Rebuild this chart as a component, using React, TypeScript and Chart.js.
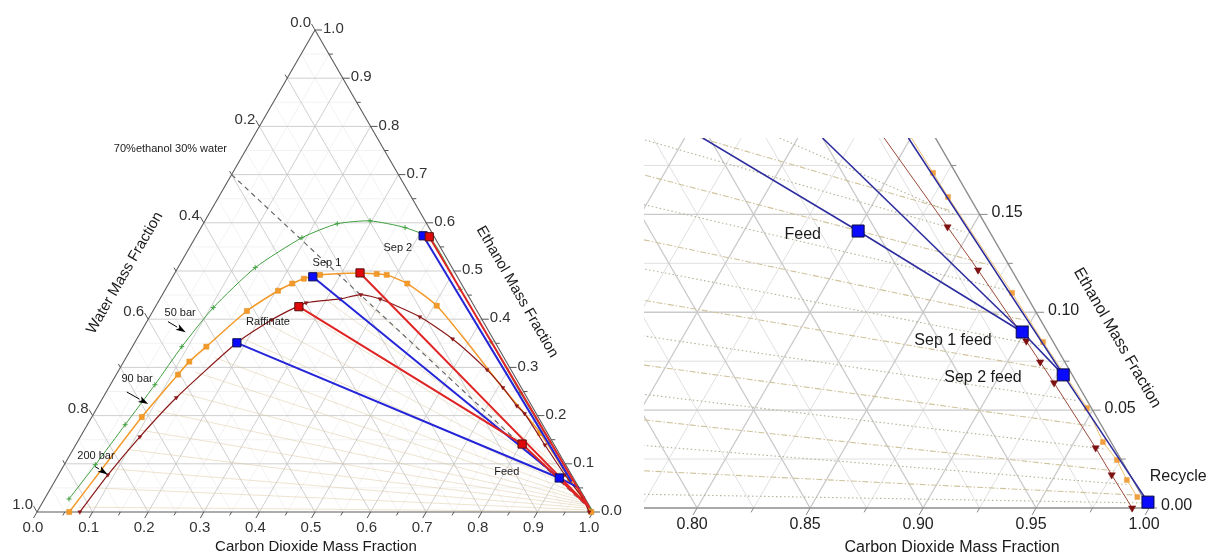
import React, { useEffect, useRef } from "react";
import { Chart, registerables } from "chart.js";
Chart.register(...registerables);

const SQ = Math.sqrt(3) / 2;
const FONT = '"Liberation Sans", Arial, Helvetica, sans-serif';

// ======================= LEFT DIAGRAM (mass fractions: CO2, ethanol) =======================
const leftMajorTicks = [0, 0.1, 0.2, 0.3, 0.4, 0.5, 0.6, 0.7, 0.8, 0.9, 1.0];
const leftMajorLabels = ["0.0", "0.1", "0.2", "0.3", "0.4", "0.5", "0.6", "0.7", "0.8", "0.9", "1.0"];
const leftMinorTicks = [0.05, 0.15, 0.25, 0.35, 0.45, 0.55, 0.65, 0.75, 0.85, 0.95];
const leftWaterTicks = [0, 0.2, 0.4, 0.6, 0.8, 1.0];
const leftWaterLabels = ["0.0", "0.2", "0.4", "0.6", "0.8", "1.0"];
const leftWaterMinor = [0.1, 0.3, 0.5, 0.7, 0.9];
const leftGridMajor = [0.1, 0.2, 0.3, 0.4, 0.5, 0.6, 0.7, 0.8, 0.9];
const leftGridMinor = [0.05, 0.15, 0.25, 0.35, 0.45, 0.55, 0.65, 0.75, 0.85, 0.95];

// 50 bar binodal
const bar50CO2 = [0.044, 0.056, 0.068, 0.080, 0.089, 0.105, 0.139, 0.192, 0.241, 0.297, 0.367, 0.426, 0.530, 0.640, 0.745, 0.850, 0.940, 0.993];
const bar50EtOH = [0.027, 0.098, 0.181, 0.264, 0.343, 0.424, 0.507, 0.569, 0.598, 0.604, 0.590, 0.566, 0.462, 0.353, 0.248, 0.145, 0.057, 0.005];
// 90 bar binodal
const bar90CO2 = [0.058, 0.074, 0.090, 0.111, 0.118, 0.133, 0.169, 0.204, 0.222, 0.238, 0.263, 0.333, 0.364, 0.383, 0.429, 0.505, 0.600, 0.700, 0.780, 0.823, 0.925, 0.997];
const bar90EtOH = [0.000, 0.100, 0.197, 0.285, 0.312, 0.343, 0.417, 0.459, 0.474, 0.484, 0.492, 0.496, 0.494, 0.492, 0.474, 0.428, 0.350, 0.265, 0.200, 0.164, 0.067, 0.000];
const bar90Marker = [1, 0, 1, 1, 1, 1, 1, 1, 1, 1, 1, 0, 1, 1, 1, 1, 0, 0, 0, 1, 1, 1];
// 200 bar binodal
const bar200CO2 = [0.077, 0.089, 0.107, 0.132, 0.184, 0.223, 0.267, 0.324, 0.357, 0.396, 0.486, 0.568, 0.662, 0.709, 0.753, 0.775, 0.844, 0.911, 0.967, 0.993];
const bar200EtOH = [0.000, 0.077, 0.156, 0.237, 0.351, 0.399, 0.434, 0.442, 0.451, 0.442, 0.405, 0.359, 0.295, 0.258, 0.220, 0.204, 0.139, 0.077, 0.029, 0.000];

// faint equilibrium tie lines (water-rich end -> CO2-rich end)
const leftTieWaterSideCO2 = [0.07, 0.08, 0.085, 0.095, 0.10, 0.11, 0.125, 0.14, 0.16, 0.19, 0.22, 0.26, 0.30, 0.35];
const leftTieWaterSideEtOH = [0.01, 0.05, 0.09, 0.13, 0.17, 0.21, 0.25, 0.29, 0.32, 0.36, 0.39, 0.42, 0.44, 0.45];
const leftTieCO2SideCO2 = [0.995, 0.99, 0.985, 0.98, 0.975, 0.97, 0.965, 0.96, 0.95, 0.94, 0.93, 0.92, 0.90, 0.88];
const leftTieCO2SideEtOH = [0.001, 0.004, 0.008, 0.012, 0.016, 0.02, 0.025, 0.03, 0.04, 0.05, 0.06, 0.07, 0.085, 0.10];

// 70% ethanol / 30% water dilution line
const dilutionCO2 = [0.0, 1.0];
const dilutionEtOH = [0.7, 0.0];

// process lines
const blueLine1CO2 = [0.184, 0.904, 0.950];
const blueLine1EtOH = [0.351, 0.0706, 0.050];
const blueLine2CO2 = [0.252, 0.904];
const blueLine2EtOH = [0.488, 0.0706];
const blueLine3CO2 = [0.408, 0.930];
const blueLine3EtOH = [0.573, 0.063];
const redLine1CO2 = [0.258, 0.802, 0.985];
const redLine1EtOH = [0.426, 0.141, 0.012];
const redLine2CO2 = [0.333, 0.975];
const redLine2EtOH = [0.496, 0.020];
const redLine3CO2 = [0.420, 0.990];
const redLine3EtOH = [0.571, 0.008];
const blueSquareCO2 = [0.184, 0.252, 0.408, 0.904];
const blueSquareEtOH = [0.351, 0.488, 0.573, 0.0706];
const redSquareCO2 = [0.258, 0.333, 0.420, 0.802];
const redSquareEtOH = [0.426, 0.496, 0.571, 0.141];

// ======================= RIGHT DIAGRAM (zoom on CO2 corner) =======================
const rightBottomTicks = [0.8, 0.85, 0.9, 0.95, 1.0];
const rightBottomLabels = ["0.80", "0.85", "0.90", "0.95", "1.00"];
const rightBottomMinor = [0.825, 0.875, 0.925, 0.975];
const rightEtOHTicks = [0, 0.05, 0.1, 0.15];
const rightEtOHLabels = ["0.00", "0.05", "0.10", "0.15"];
const rightEtOHMinor = [0.025, 0.075, 0.125, 0.175];
const rightGridMajor = [0.05, 0.1, 0.15, 0.2, 0.25, 0.3, 0.7, 0.75, 0.8, 0.85, 0.9, 0.95];
const rightGridMinor = [0.025, 0.075, 0.125, 0.175, 0.225, 0.275, 0.725, 0.775, 0.825, 0.875, 0.925, 0.975];

const rightTieLeftCO2 = [0.683, 0.692, 0.699, 0.708, 0.716, 0.724, 0.732, 0.740, 0.748, 0.754, 0.760, 0.767, 0.773, 0.707, 0.742];
const rightTieLeftEtOH = [0.188, 0.170, 0.155, 0.137, 0.122, 0.106, 0.088, 0.073, 0.058, 0.045, 0.032, 0.019, 0.007, 0.189, 0.189];
const rightTieRightCO2 = [0.848, 0.868, 0.883, 0.897, 0.910, 0.923, 0.940, 0.953, 0.966, 0.975, 0.984, 0.991, 0.995, 0.836, 0.839];
const rightTieRightEtOH = [0.141, 0.124, 0.111, 0.096, 0.083, 0.0705, 0.055, 0.042, 0.030, 0.019, 0.012, 0.0066, 0.0026, 0.152, 0.150];

const rightBar200CO2 = [0.776, 0.839, 0.8635, 0.903, 0.9145, 0.926, 0.961, 0.975, 0.9925];
const rightBar200EtOH = [0.200, 0.1436, 0.1216, 0.0853, 0.0746, 0.0639, 0.0307, 0.0169, 0.0];
const rightBar90CO2 = [0.789, 0.8188, 0.8316, 0.8844, 0.9107, 0.947, 0.9627, 0.9735, 0.983, 0.992];
const rightBar90EtOH = [0.200, 0.1712, 0.1589, 0.1099, 0.0848, 0.0511, 0.0337, 0.0245, 0.0143, 0.0056];

const rightLine1CO2 = [0.708, 0.8005, 0.8989];
const rightLine1EtOH = [0.189, 0.1415, 0.0899];
const rightLine2CO2 = [0.761, 0.8989];
const rightLine2EtOH = [0.189, 0.0899];
const rightLine3CO2 = [0.799, 0.928, 0.998];
const rightLine3EtOH = [0.189, 0.068, 0.003];
const rightLine4CO2 = [0.8989, 0.928];
const rightLine4EtOH = [0.0899, 0.068];
const rightSquareCO2 = [0.8005, 0.8989, 0.928, 0.998];
const rightSquareEtOH = [0.1415, 0.0899, 0.068, 0.003];

// ======================= helpers =======================
const pts = (cs: number[], es: number[]) => cs.map((c, i) => ({ x: c + es[i] / 2, y: es[i] * SQ }));

function lineDs(cs: number[], es: number[], color: string, width: number, extra: any = {}) {
  return {
    data: pts(cs, es), showLine: true, borderColor: color, borderWidth: width,
    pointRadius: 0, pointHoverRadius: 0, fill: false, tension: 0, ...extra,
  };
}
function markDs(cs: number[], es: number[], style: string, radius: any, bg: string, border: string, extra: any = {}) {
  return {
    data: pts(cs, es), showLine: false, pointStyle: style, pointRadius: radius, pointHoverRadius: radius,
    pointBackgroundColor: bg, pointBorderColor: border, pointBorderWidth: 1, ...extra,
  };
}

interface TextItem { text: string; c: number; e: number; size: number; rot?: number; align?: CanvasTextAlign; color?: string }
interface Arrow { c1: number; e1: number; c2: number; e2: number }
interface Seg { c1: number; e1: number; c2: number; e2: number }

interface TernCfg {
  gridMinor: number[]; gridMajor: number[];
  minorColor: string; majorColor: string; minorWidth: number; majorWidth: number;
  frame: Seg[]; frameColor: string; frameWidth: number; clip: boolean;
  bottomTicks: number[]; bottomLabels: string[]; bottomMinor: number[];
  rightTicks: number[]; rightLabels: string[]; rightMinor: number[];
  leftTicks: number[]; leftLabels: string[]; leftMinor: number[];
  tickLen: number; minorLen: number; tickColor: string; labelSize: number; labelColor: string;
  bottomOff: [number, number]; rightOff: [number, number]; leftOff: [number, number];
  texts: TextItem[]; arrows: Arrow[];
}

function ternaryPlugin(id: string, cfg: TernCfg) {
  const P = (chart: any, c: number, e: number): [number, number] => [
    chart.scales.x.getPixelForValue(c + e / 2),
    chart.scales.y.getPixelForValue(e * SQ),
  ];
  const seg = (ctx: CanvasRenderingContext2D, a: [number, number], b: [number, number]) => {
    ctx.beginPath(); ctx.moveTo(a[0], a[1]); ctx.lineTo(b[0], b[1]); ctx.stroke();
  };
  const family = (chart: any, ctx: CanvasRenderingContext2D, k: number) => {
    seg(ctx, P(chart, k, 0), P(chart, k, 1 - k));
    seg(ctx, P(chart, 0, k), P(chart, 1 - k, k));
    seg(ctx, P(chart, 1 - k, 0), P(chart, 0, 1 - k));
  };
  const clipArea = (chart: any, ctx: CanvasRenderingContext2D, extra: number) => {
    const ca = chart.chartArea;
    ctx.beginPath();
    ctx.rect(ca.left, ca.top, ca.right - ca.left + extra, ca.bottom - ca.top + extra);
    ctx.clip();
  };
  return {
    id,
    beforeDatasetsDraw(chart: any) {
      const ctx: CanvasRenderingContext2D = chart.ctx;
      ctx.save();
      if (cfg.clip) clipArea(chart, ctx, 0);
      ctx.lineWidth = cfg.minorWidth; ctx.strokeStyle = cfg.minorColor;
      cfg.gridMinor.forEach((k) => family(chart, ctx, k));
      ctx.lineWidth = cfg.majorWidth; ctx.strokeStyle = cfg.majorColor;
      cfg.gridMajor.forEach((k) => family(chart, ctx, k));
      ctx.restore();

      ctx.save();
      if (cfg.clip) clipArea(chart, ctx, 3);
      ctx.strokeStyle = cfg.frameColor; ctx.lineWidth = cfg.frameWidth;
      cfg.frame.forEach((s) => seg(ctx, P(chart, s.c1, s.e1), P(chart, s.c2, s.e2)));
      ctx.restore();

      // ticks
      ctx.save();
      ctx.strokeStyle = cfg.tickColor; ctx.lineWidth = 1;
      const bt = (k: number, L: number) => { const p = P(chart, k, 0); seg(ctx, p, [p[0] - 0.5 * L, p[1] + SQ * L]); };
      const rt = (k: number, L: number) => { const p = P(chart, 1 - k, k); seg(ctx, p, [p[0] + L, p[1]]); };
      const lt = (k: number, L: number) => { const p = P(chart, 0, 1 - k); seg(ctx, p, [p[0] - 0.5 * L, p[1] - SQ * L]); };
      cfg.bottomTicks.forEach((k) => bt(k, cfg.tickLen));
      cfg.bottomMinor.forEach((k) => bt(k, cfg.minorLen));
      cfg.rightTicks.forEach((k) => rt(k, cfg.tickLen));
      cfg.rightMinor.forEach((k) => rt(k, cfg.minorLen));
      cfg.leftTicks.forEach((k) => lt(k, cfg.tickLen));
      cfg.leftMinor.forEach((k) => lt(k, cfg.minorLen));
      ctx.restore();
    },
    afterDatasetsDraw(chart: any) {
      const ctx: CanvasRenderingContext2D = chart.ctx;
      ctx.save();
      ctx.fillStyle = cfg.labelColor;
      ctx.font = `${cfg.labelSize}px ${FONT}`;
      ctx.textBaseline = "middle";
      ctx.textAlign = "center";
      cfg.bottomTicks.forEach((k, i) => {
        const p = P(chart, k, 0);
        ctx.fillText(cfg.bottomLabels[i], p[0] + cfg.bottomOff[0], p[1] + cfg.bottomOff[1]);
      });
      ctx.textAlign = "left";
      cfg.rightTicks.forEach((k, i) => {
        const p = P(chart, 1 - k, k);
        ctx.fillText(cfg.rightLabels[i], p[0] + cfg.rightOff[0], p[1] + cfg.rightOff[1]);
      });
      ctx.textAlign = "right";
      cfg.leftTicks.forEach((k, i) => {
        const p = P(chart, 0, 1 - k);
        ctx.fillText(cfg.leftLabels[i], p[0] + cfg.leftOff[0], p[1] + cfg.leftOff[1]);
      });

      cfg.texts.forEach((t) => {
        const p = P(chart, t.c, t.e);
        ctx.save();
        ctx.translate(p[0], p[1]);
        if (t.rot) ctx.rotate((t.rot * Math.PI) / 180);
        ctx.font = `${t.size}px ${FONT}`;
        ctx.fillStyle = t.color || "#1a1a1a";
        ctx.textAlign = t.align || "center";
        ctx.textBaseline = "middle";
        ctx.fillText(t.text, 0, 0);
        ctx.restore();
      });

      ctx.strokeStyle = "#000"; ctx.fillStyle = "#000"; ctx.lineWidth = 1;
      cfg.arrows.forEach((a) => {
        const s = P(chart, a.c1, a.e1), e = P(chart, a.c2, a.e2);
        const dx = e[0] - s[0], dy = e[1] - s[1];
        const L = Math.hypot(dx, dy) || 1;
        const ux = dx / L, uy = dy / L;
        const hl = 10, hw = 3.2;
        const bx = e[0] - ux * hl, by = e[1] - uy * hl;
        seg(ctx, s, [bx, by]);
        ctx.beginPath();
        ctx.moveTo(e[0], e[1]);
        ctx.lineTo(bx - uy * hw, by + ux * hw);
        ctx.lineTo(bx + ux * 2.5, by + uy * 2.5);
        ctx.lineTo(bx + uy * hw, by - ux * hw);
        ctx.closePath();
        ctx.fill();
      });
      ctx.restore();
    },
  };
}

function baseOptions(view: { xMin: number; xMax: number; yMin: number; yMax: number }, padding: any) {
  return {
    responsive: false,
    maintainAspectRatio: false,
    animation: false as const,
    devicePixelRatio: 1,
    events: [] as any[],
    layout: { padding },
    scales: {
      x: { type: "linear" as const, min: view.xMin, max: view.xMax, display: false },
      y: { type: "linear" as const, min: view.yMin, max: view.yMax, display: false },
    },
    plugins: { legend: { display: false }, tooltip: { enabled: false }, title: { display: false } },
  };
}

function leftConfig(): any {
  const layers: any[] = [];
  leftTieWaterSideCO2.forEach((c, i) => {
    layers.push(lineDs([c, leftTieCO2SideCO2[i]], [leftTieWaterSideEtOH[i], leftTieCO2SideEtOH[i]], "rgba(214,196,150,0.45)", 1));
  });
  layers.push(lineDs(dilutionCO2, dilutionEtOH, "#6a6a6a", 1.2, { borderDash: [5, 4] }));
  layers.push(lineDs(bar50CO2, bar50EtOH, "#3f9f3f", 1, {
    tension: 0.2, pointStyle: "cross", pointRadius: 2.5, pointBorderColor: "#3f9f3f", pointBorderWidth: 1,
  }));
  layers.push(lineDs(bar90CO2, bar90EtOH, "#f39a2a", 1.5, {
    tension: 0.2, pointStyle: "rect", pointRadius: bar90Marker.map((m) => m * 3.6),
    pointBackgroundColor: "#f39a2a", pointBorderColor: "#e08a1a", pointBorderWidth: 0.5,
  }));
  layers.push(lineDs(bar200CO2, bar200EtOH, "#8a1818", 1.2, {
    tension: 0.2, pointStyle: "triangle", pointRotation: 180, pointRadius: 2.3,
    pointBackgroundColor: "#8a1818", pointBorderColor: "#8a1818", pointBorderWidth: 0.5,
  }));
  layers.push(lineDs(blueLine1CO2, blueLine1EtOH, "#2424d8", 2));
  layers.push(lineDs(blueLine2CO2, blueLine2EtOH, "#2424d8", 2));
  layers.push(lineDs(blueLine3CO2, blueLine3EtOH, "#2424d8", 2));
  layers.push(lineDs(redLine1CO2, redLine1EtOH, "#e02424", 2));
  layers.push(lineDs(redLine2CO2, redLine2EtOH, "#e02424", 2));
  layers.push(lineDs(redLine3CO2, redLine3EtOH, "#e02424", 2));
  layers.push(markDs(blueSquareCO2, blueSquareEtOH, "rect", 5.8, "#0a0aff", "#101050"));
  layers.push(markDs(redSquareCO2, redSquareEtOH, "rect", 5.8, "#e00a0a", "#5a1010"));
  layers.forEach((d) => (d.clip = false));

  const cfg: TernCfg = {
    gridMinor: leftGridMinor, gridMajor: leftGridMajor,
    minorColor: "#ececec", majorColor: "#c9c9c9", minorWidth: 0.7, majorWidth: 0.9,
    frame: [
      { c1: 0, e1: 0, c2: 1, e2: 0 },
      { c1: 1, e1: 0, c2: 0, e2: 1 },
      { c1: 0, e1: 1, c2: 0, e2: 0 },
    ],
    frameColor: "#5a5a5a", frameWidth: 1.1, clip: false,
    bottomTicks: leftMajorTicks, bottomLabels: leftMajorLabels, bottomMinor: leftMinorTicks,
    rightTicks: leftMajorTicks, rightLabels: leftMajorLabels, rightMinor: leftMinorTicks,
    leftTicks: leftWaterTicks, leftLabels: leftWaterLabels, leftMinor: leftWaterMinor,
    tickLen: 7, minorLen: 4, tickColor: "#555", labelSize: 15, labelColor: "#333",
    bottomOff: [-4, 16], rightOff: [8, -1], leftOff: [-4, -7],
    texts: [
      { text: "70%ethanol 30% water", c: -0.137, e: 0.754, size: 11 },
      { text: "Sep 1", c: 0.263, e: 0.517, size: 11 },
      { text: "Sep 2", c: 0.375, e: 0.548, size: 11 },
      { text: "Raffinate", c: 0.218, e: 0.395, size: 11 },
      { text: "Feed", c: 0.803, e: 0.084, size: 11 },
      { text: "50 bar", c: 0.051, e: 0.413, size: 11 },
      { text: "90 bar", c: 0.042, e: 0.276, size: 11 },
      { text: "200 bar", c: 0.048, e: 0.116, size: 11 },
      { text: "Carbon Dioxide Mass Fraction", c: 0.538, e: -0.0727, size: 15 },
      { text: "Water Mass Fraction", c: -0.09, e: 0.496, size: 15, rot: -60 },
      { text: "Ethanol Mass Fraction", c: 0.635, e: 0.457, size: 15, rot: 60 },
    ],
    arrows: [
      { c1: 0.038, e1: 0.395, c2: 0.081, e2: 0.373 },
      { c1: 0.037, e1: 0.249, c2: 0.088, e2: 0.224 },
      { c1: 0.058, e1: 0.094, c2: 0.088, e2: 0.078 },
    ],
  };

  return {
    type: "scatter",
    data: { datasets: layers.reverse() },
    options: baseOptions({ xMin: 0, xMax: 1, yMin: 0, yMax: SQ }, { left: 37, right: 57, top: 30, bottom: 44 }),
    plugins: [ternaryPlugin("ternLeft", cfg)],
  };
}

function rightConfig(): any {
  const layers: any[] = [];
  rightTieLeftCO2.forEach((c, i) => {
    const dotted = i % 2 === 0;
    layers.push(lineDs([c, rightTieRightCO2[i]], [rightTieLeftEtOH[i], rightTieRightEtOH[i]],
      dotted ? "#b4b39a" : "#cfc39c", 1.1, { borderDash: dotted ? [1.5, 2.5] : [6, 2, 1.5, 2] }));
  });
  layers.push(lineDs(rightBar200CO2, rightBar200EtOH, "#9a4a3a", 1, {
    pointStyle: "triangle", pointRotation: 180, pointRadius: [0, 4.2, 4.2, 4.2, 4.2, 4.2, 4.2, 4.2, 4.2],
    pointBackgroundColor: "#7d1010", pointBorderColor: "#7d1010", pointBorderWidth: 0.5,
  }));
  layers.push(lineDs(rightBar90CO2, rightBar90EtOH, "#f0c070", 1, {
    pointStyle: "rect", pointRadius: [0, 3.5, 3.5, 3.5, 3.5, 3.5, 3.5, 3.5, 3.5, 3.5],
    pointBackgroundColor: "#f0a040", pointBorderColor: "#f0a040", pointBorderWidth: 0.5,
  }));
  layers.push(lineDs(rightLine1CO2, rightLine1EtOH, "#2d2d9e", 1.6));
  layers.push(lineDs(rightLine2CO2, rightLine2EtOH, "#2d2d9e", 1.6));
  layers.push(lineDs(rightLine3CO2, rightLine3EtOH, "#2d2d9e", 1.6));
  layers.push(lineDs(rightLine4CO2, rightLine4EtOH, "#2d2d9e", 1.6));
  layers.forEach((d) => (d.clip = { left: 0, top: 0, right: 0, bottom: 6 }));
  const sq = markDs(rightSquareCO2, rightSquareEtOH, "rect", 8.5, "#0a0aff", "#0a0a40");
  (sq as any).clip = false;
  layers.push(sq);

  const cfg: TernCfg = {
    gridMinor: rightGridMinor, gridMajor: rightGridMajor,
    minorColor: "#dcdcdc", majorColor: "#cacaca", minorWidth: 0.9, majorWidth: 1.3,
    frame: [
      { c1: 0.7, e1: 0, c2: 1, e2: 0 },
      { c1: 1, e1: 0, c2: 0.75, e2: 0.25 },
    ],
    frameColor: "#8c8c8c", frameWidth: 1.4, clip: true,
    bottomTicks: rightBottomTicks, bottomLabels: rightBottomLabels, bottomMinor: rightBottomMinor,
    rightTicks: rightEtOHTicks, rightLabels: rightEtOHLabels, rightMinor: rightEtOHMinor,
    leftTicks: [], leftLabels: [], leftMinor: [],
    tickLen: 8, minorLen: 5, tickColor: "#888", labelSize: 16, labelColor: "#222",
    bottomOff: [-5, 17], rightOff: [12, -2], leftOff: [0, 0],
    texts: [
      { text: "Feed", c: 0.777, e: 0.1395, size: 16 },
      { text: "Sep 1 feed", c: 0.8706, e: 0.0853, size: 16 },
      { text: "Sep 2 feed", c: 0.8933, e: 0.0664, size: 16 },
      { text: "Recycle", c: 1.005, e: 0.0158, size: 16 },
      { text: "Carbon Dioxide Mass Fraction", c: 0.923, e: -0.0204, size: 16 },
      { text: "Ethanol Mass Fraction", c: 0.9424, e: 0.0869, size: 16, rot: 60 },
    ],
    arrows: [],
  };

  return {
    type: "scatter",
    data: { datasets: layers.reverse() },
    options: baseOptions({ xMin: 0.7765, xMax: 1.0181, yMin: 0, yMax: 0.1637 }, { left: 24, right: 20, top: 138, bottom: 48 }),
    plugins: [ternaryPlugin("ternRight", cfg)],
  };
}

export default function App() {
  const leftRef = useRef<HTMLCanvasElement>(null);
  const rightRef = useRef<HTMLCanvasElement>(null);
  useEffect(() => {
    const l = new Chart(leftRef.current as HTMLCanvasElement, leftConfig());
    const r = new Chart(rightRef.current as HTMLCanvasElement, rightConfig());
    return () => {
      l.destroy();
      r.destroy();
    };
  }, []);
  return (
    <div style={{ position: "absolute", left: 0, top: 0, width: 1210, height: 556, background: "#fff", overflow: "hidden" }}>
      <canvas ref={leftRef} width={650} height={556} style={{ position: "absolute", left: 0, top: 0, width: 650, height: 556 }} />
      <canvas ref={rightRef} width={590} height={556} style={{ position: "absolute", left: 620, top: 0, width: 590, height: 556 }} />
    </div>
  );
}
